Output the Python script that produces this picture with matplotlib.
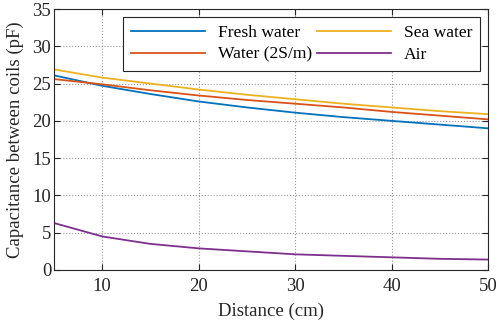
import matplotlib
matplotlib.use("Agg")
import matplotlib.pyplot as plt

distance = [5, 10, 15, 20, 25, 30, 35, 40, 45, 50]
fresh_water = [26.1, 24.7, 23.6, 22.6, 21.8, 21.1, 20.5, 20.0, 19.5, 19.0]
water_2sm = [25.6, 24.9, 24.1, 23.4, 22.8, 22.3, 21.8, 21.2, 20.7, 20.2]
sea_water = [26.9, 25.8, 25.0, 24.2, 23.5, 22.9, 22.3, 21.8, 21.3, 20.9]
air = [6.3, 4.5, 3.5, 2.9, 2.5, 2.1, 1.9, 1.7, 1.5, 1.4]

xticks = [10, 20, 30, 40, 50]
yticks = [0, 5, 10, 15, 20, 25, 30, 35]

plt.rcParams['font.family'] = ['Liberation Serif', 'DejaVu Serif']
plt.rcParams['font.size'] = 13

fig = plt.figure(figsize=(5.01, 3.26), dpi=100)
ax = fig.add_axes([54/501, 56/326, (488-54)/501, (270-9)/326])

l1, = ax.plot(distance, fresh_water, color='#0072BD', lw=1.3, label='Fresh water')
l2, = ax.plot(distance, water_2sm, color='#D95319', lw=1.3, label='Water (2S/m)')
l3, = ax.plot(distance, sea_water, color='#EDB120', lw=1.3, label='Sea water')
l4, = ax.plot(distance, air, color='#7E2F8E', lw=1.3, label='Air')

ax.set_xlim(5, 50)
ax.set_ylim(0, 35)
ax.set_xticks(xticks)
ax.set_yticks(yticks)
ax.grid(True, linestyle=':', color='#999999', linewidth=0.8)
ax.tick_params(direction='in', top=True, right=True, length=4, width=0.8,
               colors='#262626', labelcolor='#262626', labelsize=13.5)
ax.tick_params(axis='x', pad=6)
ax.tick_params(axis='y', pad=2)
for s in ax.spines.values():
    s.set_color('#262626')
    s.set_linewidth(0.8)

ax.set_xlabel('Distance (cm)', fontsize=13.5, color='#262626', labelpad=5)
ax.set_ylabel('Capacitance between coils (pF)', fontsize=13.5, color='#262626', labelpad=6)

leg = ax.legend(handles=[l1, l2, l3, l4], ncol=2, loc='upper right',
                bbox_to_anchor=(480/501, (326-17)/326), bbox_transform=fig.transFigure,
                borderaxespad=0, fancybox=False, framealpha=1, edgecolor='#262626',
                handlelength=4.2, handletextpad=0.75, columnspacing=0.3,
                labelspacing=0.3, borderpad=0.45, fontsize=12.6)
leg.get_frame().set_linewidth(0.8)

fig.savefig('out.png', dpi=100)
